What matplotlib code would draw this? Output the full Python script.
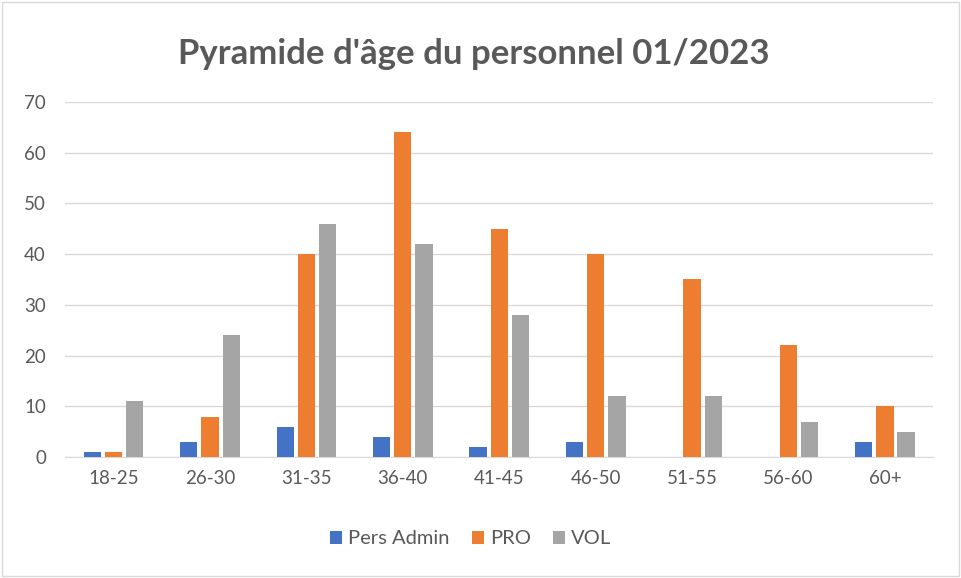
import matplotlib.pyplot as plt
import numpy as np

plt.rcParams['font.family'] = ['Lato', 'DejaVu Sans']

# Pyramide d'âge du personnel
categories = ['18-25', '26-30', '31-35', '36-40', '41-45', '46-50', '51-55', '56-60', '60+']
admin = [1, 3, 6, 4, 2, 3, 0, 0, 3]
pro = [1, 8, 40, 64, 45, 40, 35, 22, 10]
vol = [11, 24, 46, 42, 28, 12, 12, 7, 5]

fig = plt.figure(figsize=(9.61, 5.78), dpi=100)
ax = fig.add_axes([0.068, 0.209, 0.903, 0.615])

x = np.arange(len(categories))
w = 0.18
off = 0.22
ax.bar(x - off, admin, w, color='#4472C4', label='Pers Admin', zorder=3)
ax.bar(x, pro, w, color='#ED7D31', label='PRO', zorder=3)
ax.bar(x + off, vol, w, color='#A5A5A5', label='VOL', zorder=3)

ax.set_xlim(-0.5, len(categories) - 0.5)
ax.set_ylim(0, 70)
ax.set_yticks(np.arange(0, 71, 10))
ax.set_xticks(x)
ax.set_xticklabels(categories)
ax.grid(axis='y', color='#D9D9D9', linewidth=1, zorder=0)
for s in ['top', 'right', 'left']:
    ax.spines[s].set_visible(False)
ax.spines['bottom'].set_color('#D9D9D9')
ax.tick_params(length=0, labelsize=13.5, colors='#595959', pad=9)
ax.tick_params(axis='y', pad=14)

fig.text(0.493, 0.907, "Pyramide d'âge du personnel 01/2023", ha='center', va='center',
         fontsize=25, fontweight='bold', color='#595959')
ax.legend(loc='upper center', bbox_to_anchor=(0.467, -0.155), ncol=3, frameon=False,
          fontsize=14.5, labelcolor='#595959', handlelength=0.6, handleheight=0.6,
          columnspacing=1.1, handletextpad=0.3)

fig.patches.append(plt.Rectangle((0.002, 0.003), 0.996, 0.994, transform=fig.transFigure,
                                 fill=False, edgecolor='#D9D9D9', linewidth=1))
fig.savefig('out.png', dpi=100)
